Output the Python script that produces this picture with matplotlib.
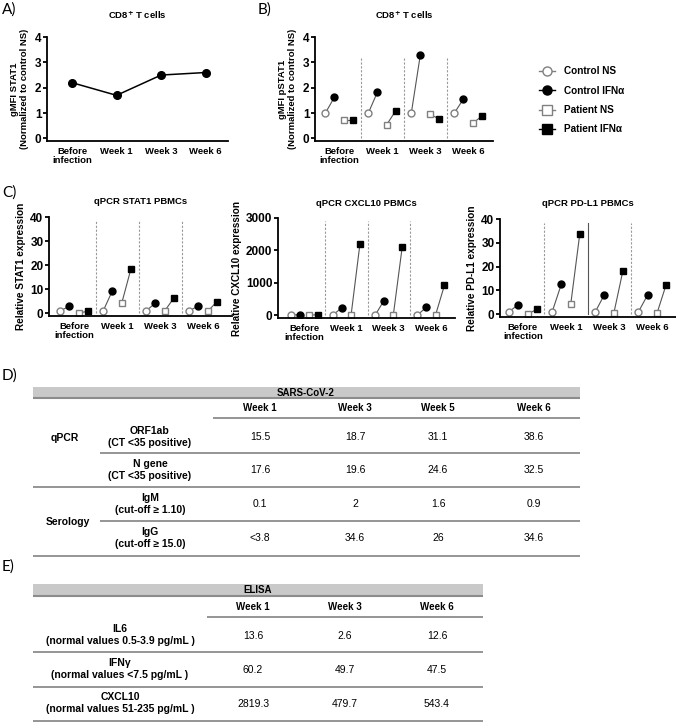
import matplotlib
matplotlib.use('Agg')
import matplotlib.pyplot as plt
from matplotlib.lines import Line2D

plt.rcParams['font.family'] = ['Liberation Sans', 'DejaVu Sans']
plt.rcParams['font.weight'] = 'bold'
plt.rcParams['axes.titleweight'] = 'bold'
plt.rcParams['axes.labelweight'] = 'bold'
plt.rcParams['mathtext.default'] = 'bf'
NARROW = ['Liberation Sans Narrow', 'Liberation Sans', 'DejaVu Sans']

# ---- data ----
groups = ['Before\ninfection', 'Week 1', 'Week 3', 'Week 6']

stat1_gmfi = [2.2, 1.7, 2.5, 2.6]

pstat1_ctrl_ns = [1.0, 1.0, 1.0, 1.0]
pstat1_ctrl_ifn = [1.62, 1.82, 3.3, 1.55]
pstat1_pat_ns = [0.72, 0.55, 0.95, 0.6]
pstat1_pat_ifn = [0.72, 1.1, 0.78, 0.88]

qstat1_ctrl_ns = [1.0, 1.0, 1.0, 1.0]
qstat1_ctrl_ifn = [2.8, 9.2, 4.2, 3.0]
qstat1_pat_ns = [0.0, 4.2, 1.0, 0.8]
qstat1_pat_ifn = [0.8, 18.2, 6.3, 4.8]

cxcl10_ctrl_ns = [1, 1, 1, 1]
cxcl10_ctrl_ifn = [15, 230, 450, 240]
cxcl10_pat_ns = [1, 1, 5, 5]
cxcl10_pat_ifn = [10, 2200, 2100, 920]

pdl1_ctrl_ns = [1.0, 1.0, 1.0, 1.0]
pdl1_ctrl_ifn = [4.0, 12.5, 8.2, 8.0]
pdl1_pat_ns = [0.0, 4.2, 0.5, 0.4]
pdl1_pat_ifn = [2.0, 33.8, 18.3, 12.3]

legend_labels = ['Control NS', 'Control IFNα', 'Patient NS', 'Patient IFNα']

sars_weeks = ['Week 1', 'Week 3', 'Week 5', 'Week 6']
sars_rows = ['ORF1ab\n(CT <35 positive)', 'N gene\n(CT <35 positive)',
             'IgM\n(cut-off ≥ 1.10)', 'IgG\n(cut-off ≥ 15.0)']
sars_values = [['15.5', '18.7', '31.1', '38.6'],
               ['17.6', '19.6', '24.6', '32.5'],
               ['0.1', '2', '1.6', '0.9'],
               ['<3.8', '34.6', '26', '34.6']]
sars_groups = ['qPCR', 'Serology']

elisa_weeks = ['Week 1', 'Week 3', 'Week 6']
elisa_rows = ['IL6\n(normal values 0.5-3.9 pg/mL )',
              'IFNγ\n(normal values <7.5 pg/mL )',
              'CXCL10\n(normal values 51-235 pg/mL )']
elisa_values = [['13.6', '2.6', '12.6'],
                ['60.2', '49.7', '47.5'],
                ['2819.3', '479.7', '543.4']]

# ---- figure ----
W, H = 676, 723
fig = plt.figure(figsize=(W / 100, H / 100), dpi=100)


def box(l, r, t, b):
    return [l / W, 1 - b / H, (r - l) / W, (b - t) / H]


# overlay in pixel coordinates for letters and tables
ov = fig.add_axes([0, 0, 1, 1])
ov.set_xlim(0, W)
ov.set_ylim(H, 0)
ov.axis('off')

GRAY = '#808080'
offsets = [-0.32, -0.11, 0.11, 0.32]


def style(ax, ylim, yticks, xlim):
    ax.set_facecolor('none')
    ax.set_xlim(*xlim)
    ax.set_ylim(*ylim)
    ax.set_yticks(yticks)
    ax.set_xticks(range(len(groups)))
    ax.set_xticklabels(groups, linespacing=1.05, fontweight='bold')
    for lab in ax.get_yticklabels():
        lab.set_fontweight('bold')
    for s in ['top', 'right']:
        ax.spines[s].set_visible(False)
    for s in ['left', 'bottom']:
        ax.spines[s].set_linewidth(1.3)
    ax.tick_params(axis='y', length=3, width=1.3, labelsize=8.5, pad=1)
    ax.tick_params(axis='x', length=0, labelsize=6.8, pad=4)


def paired(ax, cns, cifn, pns, pifn, sep_top, solid_sep=()):
    x = range(len(groups))
    for i in x:
        xs = [i + o for o in offsets]
        ax.plot(xs[:2], [cns[i], cifn[i]], color='#555555', lw=0.8, zorder=1)
        ax.plot(xs[2:], [pns[i], pifn[i]], color='#555555', lw=0.8, zorder=1)
        ax.plot(xs[0], cns[i], 'o', mfc='white', mec=GRAY, mew=1, ms=5, zorder=2)
        ax.plot(xs[1], cifn[i], 'o', color='black', ms=5, zorder=2)
        ax.plot(xs[2], pns[i], 's', mfc='white', mec=GRAY, mew=1, ms=5, zorder=2)
        ax.plot(xs[3], pifn[i], 's', color='black', ms=5, zorder=2)
    for i in range(1, len(groups)):
        if i in solid_sep:
            ax.plot([i - 0.5, i - 0.5], [0, sep_top], color='#555555', lw=0.8, zorder=0)
        else:
            ax.plot([i - 0.5, i - 0.5], [0, sep_top], color='#999999', lw=0.8,
                    ls=(0, (2, 1.5)), zorder=0)


# A
axA = fig.add_axes(box(47, 228, 37, 141))
style(axA, (-0.1, 4), [0, 1, 2, 3, 4], (-0.56, 3.5))
axA.plot(range(len(groups)), stat1_gmfi, 'o-', color='black', lw=1.1, ms=5.5)
axA.set_ylabel('gMFI STAT1\n(Normalized to control NS)', fontsize=6.8, labelpad=4)
axA.set_title('CD8$^{+}$ T cells', fontsize=6.8, pad=13)

# B
axB = fig.add_axes(box(315, 493, 37, 141))
style(axB, (-0.1, 4), [0, 1, 2, 3, 4], (-0.56, 3.58))
paired(axB, pstat1_ctrl_ns, pstat1_ctrl_ifn, pstat1_pat_ns, pstat1_pat_ifn, 3.2)
axB.set_ylabel('gMFI pSTAT1\n(Normalized to control NS)', fontsize=6.8, labelpad=4)
axB.set_title('CD8$^{+}$ T cells', fontsize=6.8, pad=13)

handles = [
    Line2D([], [], color=GRAY, lw=1, marker='o', mfc='white', mec=GRAY, ms=6.5),
    Line2D([], [], color='black', lw=1, marker='o', ms=6.5),
    Line2D([], [], color=GRAY, lw=1, marker='s', mfc='white', mec=GRAY, ms=6.5),
    Line2D([], [], color='black', lw=1, marker='s', ms=6.5),
]
fig.legend(handles, legend_labels, loc='upper left',
           bbox_to_anchor=(530 / W, 1 - 57 / H), frameon=False,
           handlelength=1.6, handletextpad=0.9, labelspacing=0.95,
           prop={'weight': 'bold', 'size': 7.2})

# C
axC1 = fig.add_axes(box(49, 232, 217, 316))
style(axC1, (-1.2, 40), [0, 10, 20, 30, 40], (-0.58, 3.67))
paired(axC1, qstat1_ctrl_ns, qstat1_ctrl_ifn, qstat1_pat_ns, qstat1_pat_ifn, 38.5)
axC1.set_ylabel('Relative STAT1 expression', fontsize=7.2, labelpad=3)
axC1.set_title('qPCR STAT1 PBMCs', fontsize=6.8, pad=9)

axC2 = fig.add_axes(box(278, 455, 218, 318))
style(axC2, (-90, 3000), [0, 1000, 2000, 3000], (-0.62, 3.57))
paired(axC2, cxcl10_ctrl_ns, cxcl10_ctrl_ifn, cxcl10_pat_ns, cxcl10_pat_ifn, 2900)
axC2.set_ylabel('Relative CXCL10 expression', fontsize=7.2, labelpad=3)
axC2.set_title('qPCR CXCL10 PBMCs', fontsize=6.8, pad=9)

axC3 = fig.add_axes(box(500, 676, 219, 317))
style(axC3, (-1.2, 40), [0, 10, 20, 30, 40], (-0.53, 3.55))
paired(axC3, pdl1_ctrl_ns, pdl1_ctrl_ifn, pdl1_pat_ns, pdl1_pat_ifn, 38.5, solid_sep=(2,))
axC3.set_ylabel('Relative PD-L1 expression', fontsize=7.2, labelpad=3)
axC3.set_title('qPCR PD-L1 PBMCs', fontsize=6.8, pad=9)

# panel letters
for lab, (lx, ly) in zip(['A)', 'B)', 'C)', 'D)', 'E)'],
                         [(2, 10), (258, 10), (2, 193), (2, 376), (2, 567)]):
    ov.text(lx, ly, lab, fontsize=11, fontweight='normal', family=['Lato', 'DejaVu Sans'],
            ha='left', va='center')

LINE = '#8c8c8c'


def hline(x0, x1, y, lw=1.3):
    ov.plot([x0, x1], [y, y], color=LINE, lw=lw, solid_capstyle='butt')


# D table
ov.add_patch(plt.Rectangle((33, 387), 547, 11, facecolor='#c9c9c9', edgecolor='none'))
hline(33, 580, 398, 1.5)
ov.text(306, 392.5, 'SARS-CoV-2', ha='center', va='center', fontsize=7,
        family=NARROW, fontweight='bold')
d_cols = [260, 355, 438, 534]
for cx, wk in zip(d_cols, sars_weeks):
    ov.text(cx, 408, wk, ha='center', va='center', fontsize=7, family=NARROW, fontweight='bold')
hline(213, 580, 418)
d_rows = [437, 470, 504, 538]
for ry, lab, vals in zip(d_rows, sars_rows, sars_values):
    ov.text(150, ry, lab, ha='center', va='center', fontsize=7.5, family=NARROW,
            fontweight='bold', linespacing=1.15)
    for cx, v in zip(d_cols, vals):
        ov.text(cx, ry, v, ha='center', va='center', fontsize=7.5, family=NARROW,
                fontweight='normal')
hline(100, 580, 453)
hline(33, 580, 487)
hline(100, 580, 521)
hline(33, 580, 556)
ov.text(65, 438, sars_groups[0], ha='center', va='center', fontsize=7.5, family=NARROW, fontweight='bold')
ov.text(68, 522, sars_groups[1], ha='center', va='center', fontsize=7.5, family=NARROW, fontweight='bold')

# E table
ov.add_patch(plt.Rectangle((33, 584), 450, 12, facecolor='#c9c9c9', edgecolor='none'))
hline(33, 483, 596, 1.5)
ov.text(258, 590, 'ELISA', ha='center', va='center', fontsize=7, family=NARROW, fontweight='bold')
e_cols = [253, 345, 437]
for cx, wk in zip(e_cols, elisa_weeks):
    ov.text(cx, 607, wk, ha='center', va='center', fontsize=7, family=NARROW, fontweight='bold')
hline(207, 483, 617)
e_rows = [635, 669, 703]
for ry, lab, vals in zip(e_rows, elisa_rows, elisa_values):
    ov.text(120, ry, lab, ha='center', va='center', fontsize=7.5, family=NARROW,
            fontweight='bold', linespacing=1.15)
    for cx, v in zip(e_cols, vals):
        ov.text(cx, ry + 1, v, ha='center', va='center', fontsize=7.5, family=NARROW,
                fontweight='normal')
hline(33, 483, 652)
hline(33, 483, 687)
hline(33, 483, 721)

fig.savefig('out.png', dpi=100)
